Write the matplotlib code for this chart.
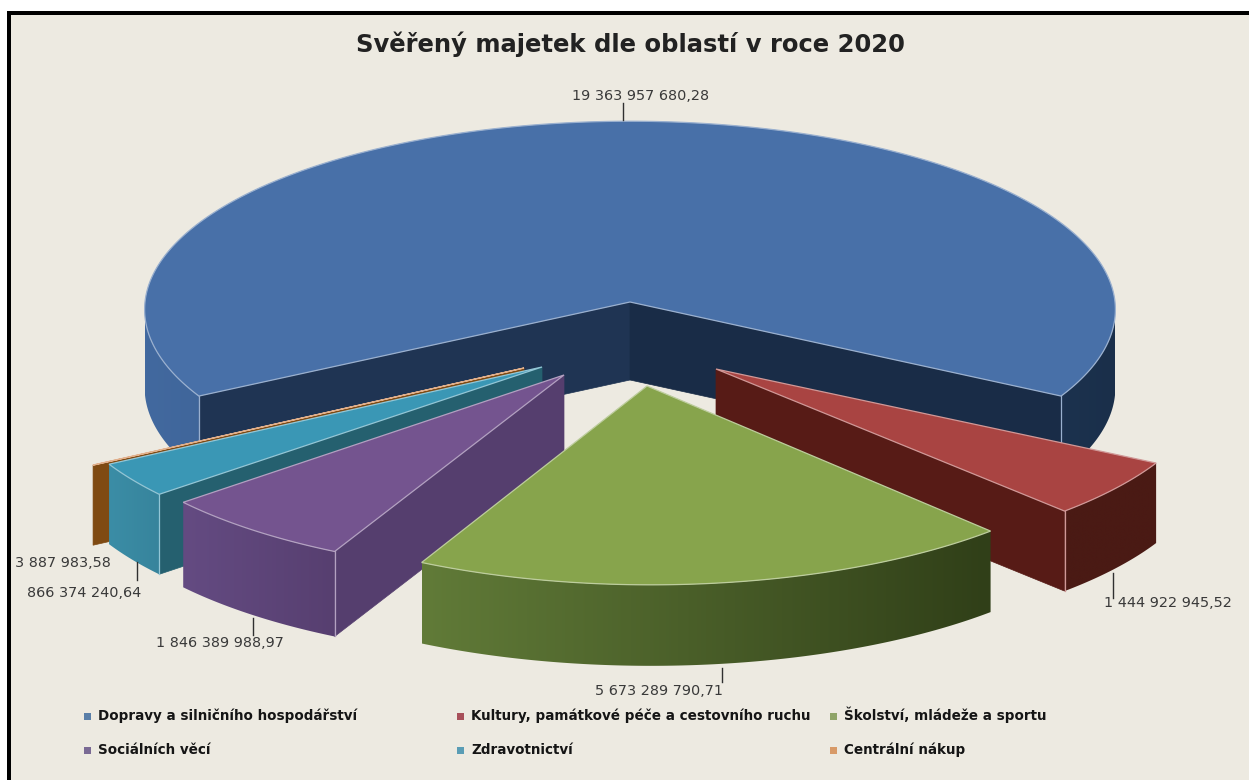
import numpy as np
import matplotlib
matplotlib.use("Agg")
import matplotlib.pyplot as plt
from matplotlib.colors import to_rgb
from matplotlib.patches import Polygon, Rectangle

categories = ["Dopravy a silničního hospodářství", "Kultury, památkové péče a cestovního ruchu",
              "Školství, mládeže a sportu", "Sociálních věcí", "Zdravotnictví", "Centrální nákup"]
values = [19363957680.28, 1444922945.52, 5673289790.71, 1846389988.97, 866374240.64, 3887983.58]
title = "Svěřený majetek dle oblastí v roce 2020"

top_colors = ["#4870A8", "#A94442", "#87A44C", "#74548F", "#3A97B5", "#C8702E"]
legend_colors = ["#5A7FA8", "#A8505A", "#8FA468", "#7A6A94", "#5A9DB5", "#D89A68"]
side_left = ["#42699F", "#4A1A14", "#617B38", "#644B82", "#3B8DA6", "#7F4A12"]
side_right = ["#1A2F4A", "#4A1A14", "#303F18", "#573F70", "#37849C", "#7F4A12"]
wall_start = ["#1F3453", "#571B16", "#3A4A1E", "#553E6E", "#25606F", "#7F4A12"]
wall_end = ["#192C47", "#571B16", "#3A4A1E", "#553E6E", "#25606F", "#7F4A12"]
explode = [(0, 0), (95, 67), (21, 87), (-66, 76), (-90, 68), (-106, 69)]
apex_adjust = [(0, 0), (-9, 0), (-4, -3), (0, -3), (2, -3), (0, -3)]
depths = [78, 80, 81, 85, 80, 80]
draw_order = [0, 5, 4, 3, 1, 2]
label_pos = [(641, 96), (1168, 603), (659, 691), (220, 643), (84.5, 593), (62.5, 563)]
leader = [(623, 103, 120), (1113, 573, 598), (722, 668, 682), (253, 618, 635), (137, 562, 580), None]
legend_x = [88, 461, 834, 88, 461, 834]
legend_y = [716, 716, 716, 750, 750, 750]

BG = "#EDEAE1"
CX, CY, RX, RY, K = 630, 302, 485, 188, 0.04


def project(ang, off=(0, 0)):
    a = np.radians(ang)
    X, Y = np.cos(a), -np.sin(a)
    s = 1 / (1 - K * Y)
    return CX + off[0] + RX * X * s, CY + off[1] + RY * Y * s


def mix(c1, c2, t):
    c1, c2 = np.array(to_rgb(c1)), np.array(to_rgb(c2))
    return tuple(c1 + (c2 - c1) * t)


fig = plt.figure(figsize=(12.49, 7.80), dpi=100, facecolor="white")
ax = fig.add_axes([0, 0, 1, 1])
ax.axis("off")
ax.add_patch(Rectangle((7, 11), 1242, 769, fc="black", ec="none", zorder=0))
ax.add_patch(Rectangle((11, 15), 1238, 765, fc=BG, ec="none", zorder=0.5))

vals = np.array(values)
sweeps = vals / vals.sum() * 360
start = 90 + sweeps[0] / 2
a1s = start - np.concatenate([[0], np.cumsum(sweeps)[:-1]])
a2s = a1s - sweeps


def side_face(angs, off, i, z, depth, xmin, xmax):
    xs, ys = project(angs, off)
    pts = list(zip(xs, ys)) + list(zip(xs[::-1], ys[::-1] + depth))
    patch = Polygon(pts, closed=True, fc="none", ec="none", zorder=z)
    ax.add_patch(patch)
    ramp = np.linspace(0, 1, 256)
    grad = np.array([[mix(side_left[i], side_right[i], t) for t in ramp]])
    im = ax.imshow(grad, extent=(xmin, xmax, ys.max() + depth + 2, ys.min() - 2), aspect="auto",
                   zorder=z, interpolation="bilinear")
    im.set_clip_path(patch)


z = 1
for i in draw_order:
    a1, a2, off, depth = a1s[i], a2s[i], explode[i], depths[i]
    apex = (CX + off[0] + apex_adjust[i][0], CY + off[1] + apex_adjust[i][1])
    edge = mix(top_colors[i], "white", 0.45)
    for ang, visible, col in ((a1, -np.cos(np.radians(a1)) > 0, wall_start[i]),
                              (a2, np.cos(np.radians(a2)) > 0, wall_end[i])):
        if visible:
            ox, oy = project(ang, off)
            ax.add_patch(Polygon([apex, (ox, oy), (ox, oy + depth), (apex[0], apex[1] + depth)],
                                 closed=True, fc=col, ec=col, lw=0.5, zorder=z))
            if i != 5:
                ax.plot([ox, ox], [oy, oy + depth], color=edge, lw=0.9, zorder=z + 0.5)
    # curved outer face: only the part that faces the viewer, one run per side of the front
    angs = np.linspace(a1, a2, max(3, int(abs(a1 - a2) * 3)))
    angs = angs[np.sin(np.radians(angs)) <= 0]
    if len(angs) > 1:
        gaps = np.where(np.abs(np.diff(angs)) > 5)[0]
        runs = np.split(angs, gaps + 1)
        if i == 0:
            xmin, xmax = CX - RX, CX + RX
        else:
            ex = project(np.array([angs[0], angs[-1]]), off)[0]
            xmin, xmax = ex.min(), ex.max()
        for run in runs:
            if len(run) > 1:
                side_face(run, off, i, z + 0.2, depth, xmin, xmax)
    arc = np.linspace(a1, a2, max(3, int(abs(a1 - a2) * 2)))
    xs, ys = project(arc, off)
    ax.add_patch(Polygon([apex] + list(zip(xs, ys)), closed=True, fc=top_colors[i], ec=edge, lw=0.9, zorder=z + 1))
    z += 2

for i, v in enumerate(values):
    whole, dec = f"{v:,.2f}".split(".")
    text = whole.replace(",", " ") + "," + dec
    ax.text(label_pos[i][0], label_pos[i][1], text, ha="center", va="center", fontsize=10.4,
            family="DejaVu Sans", color="#3A3A3A", zorder=40)
    if leader[i]:
        lx, ly0, ly1 = leader[i]
        ax.plot([lx, lx], [ly0, ly1], color="#303030", lw=1, zorder=40)

for i, cat in enumerate(categories):
    ax.add_patch(Rectangle((legend_x[i] - 3.5, legend_y[i] - 3.5), 7, 7, fc=legend_colors[i], ec="none", zorder=40))
    ax.text(legend_x[i] + 10, legend_y[i] + 4, cat, ha="left", va="baseline", fontsize=9.75,
            family="DejaVu Sans", weight="bold", color="#151515", zorder=40)

ax.text(630.5, 52, title, ha="center", va="baseline", fontsize=17.5, family="DejaVu Sans", weight="bold",
        color="#222222", zorder=40)

ax.set_xlim(0, 1249)
ax.set_ylim(780, 0)
fig.savefig("out.png", dpi=100, facecolor="white")
